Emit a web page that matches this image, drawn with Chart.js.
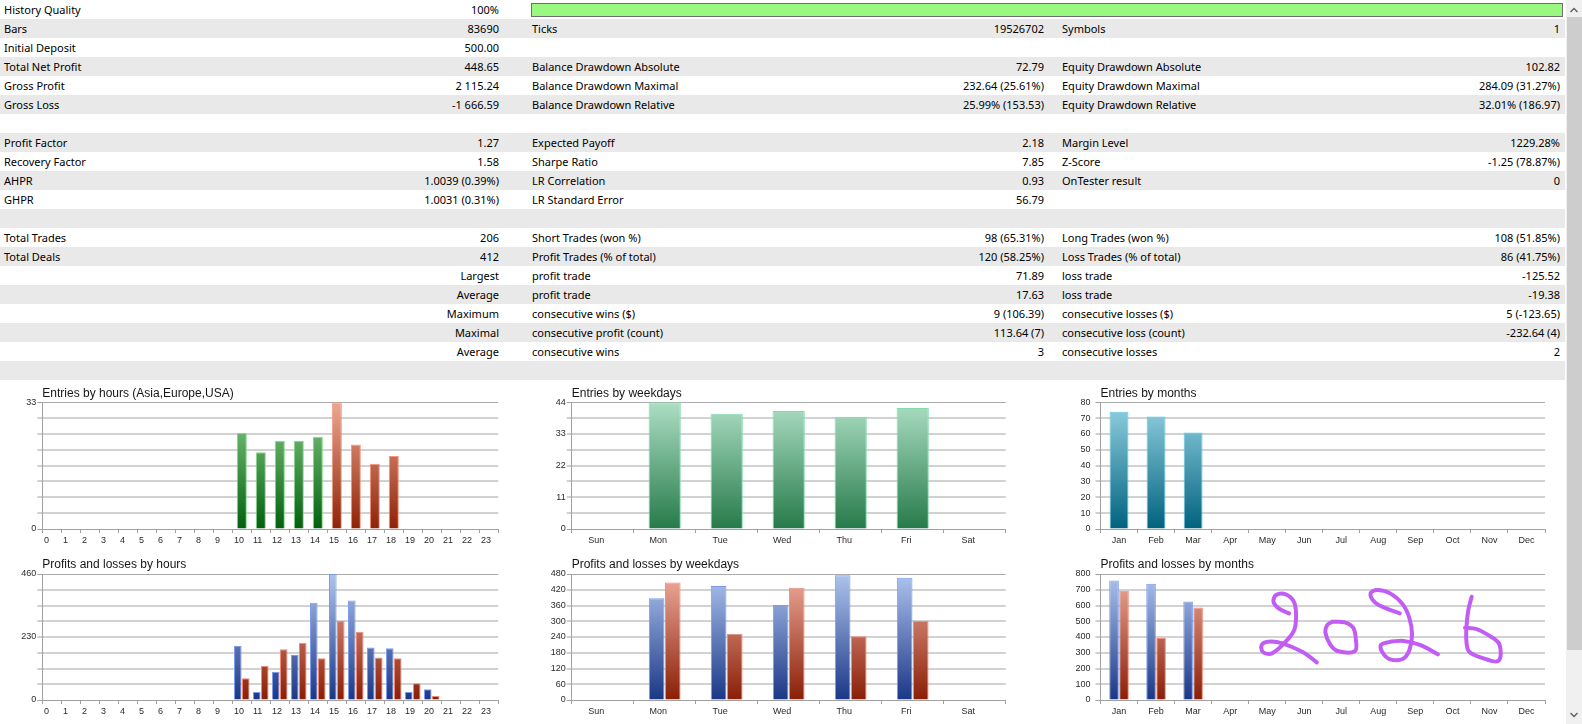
<!DOCTYPE html>
<html>
<head>
<meta charset="utf-8">
<title>Tester report</title>
<script src="https://cdn.jsdelivr.net/npm/chart.js@4.4.1/dist/chart.umd.min.js"></script>
<style>
  html, body { margin: 0; padding: 0; background: #fff; }
  body { position: relative; width: 1582px; height: 724px; overflow: hidden;
         font-family: "Noto Sans", "Open Sans", sans-serif; font-size: 11px; color: #000; }
  .row { position: absolute; left: 0; width: 1565px; height: 19px; line-height: 19px; }
  .row.odd { background: #e9e9e9; }
  .cell { position: absolute; top: 0; white-space: nowrap; }
  .num { text-align: right; }
  .quality { position: absolute; left: 531px; top: 3px; width: 1030px; height: 12px;
             background: #98f880; border: 1px solid #6e6e6e; }
  canvas { position: absolute; }
  #scroll { position: absolute; left: 1566px; top: 0; width: 16px; height: 724px; background: #f0f0f0; }
  #thumb { position: absolute; left: 1567px; top: 17px; width: 15px; height: 633px; background: #cdcdcd; }
  svg.arrow { position: absolute; left: 1566px; width: 16px; height: 16px; }
</style>
</head>
<body>
<div id="table"></div>
<div id="scroll"></div>
<div id="thumb"></div>
<svg class="arrow" style="top:2px"><polyline points="4.5,10 8,6.5 11.5,10" fill="none" stroke="#606060" stroke-width="1.4"/></svg>
<svg class="arrow" style="top:707px"><polyline points="4.5,6 8,9.5 11.5,6" fill="none" stroke="#606060" stroke-width="1.4"/></svg>

<canvas id="hoursEntries" width="520" height="170" style="left:0;top:380px"></canvas>
<canvas id="weekdaysEntries" width="520" height="170" style="left:520px;top:380px"></canvas>
<canvas id="monthsEntries" width="526" height="170" style="left:1040px;top:380px"></canvas>
<canvas id="hoursPL" width="520" height="174" style="left:0;top:550px"></canvas>
<canvas id="weekdaysPL" width="520" height="174" style="left:520px;top:550px"></canvas>
<canvas id="monthsPL" width="526" height="174" style="left:1040px;top:550px"></canvas>
<canvas id="monthsScribble" width="526" height="174" style="left:1040px;top:550px;pointer-events:none"></canvas>

<script>
//************************************************************************************************* */
//************************************   GLOBALS    ****************************************** */
//************************************************************************************************* */
// report table: label, value, label, value, label, value
const tableRows = [
  ['History Quality', '100%', '', '', '', ''],
  ['Bars', '83690', 'Ticks', '19526702', 'Symbols', '1'],
  ['Initial Deposit', '500.00', '', '', '', ''],
  ['Total Net Profit', '448.65', 'Balance Drawdown Absolute', '72.79', 'Equity Drawdown Absolute', '102.82'],
  ['Gross Profit', '2 115.24', 'Balance Drawdown Maximal', '232.64 (25.61%)', 'Equity Drawdown Maximal', '284.09 (31.27%)'],
  ['Gross Loss', '-1 666.59', 'Balance Drawdown Relative', '25.99% (153.53)', 'Equity Drawdown Relative', '32.01% (186.97)'],
  ['', '', '', '', '', ''],
  ['Profit Factor', '1.27', 'Expected Payoff', '2.18', 'Margin Level', '1229.28%'],
  ['Recovery Factor', '1.58', 'Sharpe Ratio', '7.85', 'Z-Score', '-1.25 (78.87%)'],
  ['AHPR', '1.0039 (0.39%)', 'LR Correlation', '0.93', 'OnTester result', '0'],
  ['GHPR', '1.0031 (0.31%)', 'LR Standard Error', '56.79', '', ''],
  ['', '', '', '', '', ''],
  ['Total Trades', '206', 'Short Trades (won %)', '98 (65.31%)', 'Long Trades (won %)', '108 (51.85%)'],
  ['Total Deals', '412', 'Profit Trades (% of total)', '120 (58.25%)', 'Loss Trades (% of total)', '86 (41.75%)'],
  ['', 'Largest', 'profit trade', '71.89', 'loss trade', '-125.52'],
  ['', 'Average', 'profit trade', '17.63', 'loss trade', '-19.38'],
  ['', 'Maximum', 'consecutive wins ($)', '9 (106.39)', 'consecutive losses ($)', '5 (-123.65)'],
  ['', 'Maximal', 'consecutive profit (count)', '113.64 (7)', 'consecutive loss (count)', '-232.64 (4)'],
  ['', 'Average', 'consecutive wins', '3', 'consecutive losses', '2'],
  ['', '', '', '', '', '']
];

const hourLabels = ['0','1','2','3','4','5','6','7','8','9','10','11','12','13','14','15','16','17','18','19','20','21','22','23'];
const weekdayLabels = ['Sun', 'Mon', 'Tue', 'Wed', 'Thu', 'Fri', 'Sat'];
const monthLabels = ['Jan', 'Feb', 'Mar', 'Apr', 'May', 'Jun', 'Jul', 'Aug', 'Sep', 'Oct', 'Nov', 'Dec'];

const hourEntries = [0,0,0,0,0,0,0,0,0,0,25,20,23,23,24,33,22,17,19,0,0,0,0,0];
const hourProfits = [0,0,0,0,0,0,0,0,0,0,197,29,103,164,355,460,363,192,189,29,39,0,0,0];
const hourLosses  = [0,0,0,0,0,0,0,0,0,0,79,124,185,209,152,288,249,155,152,61,15,0,0,0];

const weekdayEntries = [0, 44, 40, 41, 39, 42, 0];
const weekdayProfits = [0, 388, 434, 362, 475, 466, 0];
const weekdayLosses  = [0, 448, 252, 428, 243, 301, 0];

const monthEntries = [74, 71, 61, 0, 0, 0, 0, 0, 0, 0, 0, 0];
const monthProfits = [758, 738, 626, 0, 0, 0, 0, 0, 0, 0, 0, 0];
const monthLosses  = [693, 393, 588, 0, 0, 0, 0, 0, 0, 0, 0, 0];

// y tick labels that are written (the grid always has 8 steps up to the last one)
const hourEntriesTicks = [0, 33];
const hourPLTicks = [0, 230, 460];
const weekdayEntriesTicks = [0, 11, 22, 33, 44];
const weekdayPLTicks = [0, 60, 120, 180, 240, 300, 360, 420, 480];
const monthEntriesTicks = [0, 10, 20, 30, 40, 50, 60, 70, 80];
const monthPLTicks = [0, 100, 200, 300, 400, 500, 600, 700, 800];

// hand-drawn "2026" over the months chart, [month index, value]
const scribbleTwo = [[4.59,550],[4.31,582],[4.17,624],[4.24,667],[4.50,671],[4.72,624],[4.78,540],[4.73,444],
  [4.50,370],[4.13,296],[3.89,303],[3.85,349],[4.03,370],[4.41,360],[4.97,303],[5.34,239]];
const scribbleZero = [[5.76,497],[6.09,493],[6.32,459],[6.39,392],[6.37,311],[5.90,311],[5.70,353],
  [5.57,430],[5.62,476],[5.76,497]];
const scribbleTwoAgain = [[7.58,550],[7.21,582],[6.91,620],[6.79,677],[6.97,698],[7.32,677],[7.66,607],
  [7.84,519],[7.91,417],[7.84,317],[7.66,260],[7.30,260],[7.11,303],[7.07,349],[7.25,366],[7.68,375],
  [8.14,349],[8.61,290]];
const scribbleSix = [[9.52,656],[9.43,571],[9.38,466],[9.38,370],[9.45,307],[9.78,269],[10.24,248],
  [10.27,353],[9.96,413],[9.64,451],[9.34,459]];

const AXIS = '#a0a0a0';
const TEXT = '#2a2a2a';
const palette = {
  europe:  {top: '#86cc86', bottom: '#02600f', border: '#88d888'},
  usa:     {top: '#eea890', bottom: '#8e2206', border: '#f2957e'},
  weekday: {top: '#acdec4', bottom: '#267a4a', border: '#84dcac'},
  month:   {top: '#94d2e2', bottom: '#00627e', border: '#5cc4e0'},
  profit:  {top: '#aec4ee', bottom: '#1a3786', border: '#7a9aea'},
  loss:    {top: '#eeac9c', bottom: '#8a1e06', border: '#f28a78'}
};

//************************************************************************************************* */
//************************************   TABLE    ****************************************** */
//************************************************************************************************* */
const cellPos = [
  {left: 4}, {left: 0, width: 499, num: true},
  {left: 532}, {left: 532, width: 512, num: true},
  {left: 1062}, {left: 1062, width: 498, num: true}
];
const tableEl = document.getElementById('table');
tableRows.forEach((cells, r) => {
  const row = document.createElement('div');
  row.className = 'row' + (r % 2 ? ' odd' : '');
  row.style.top = (r * 19) + 'px';
  cells.forEach((text, c) => {
    if (!text) return;
    const cell = document.createElement('div');
    const p = cellPos[c];
    cell.className = 'cell' + (p.num ? ' num' : '');
    cell.style.left = p.left + 'px';
    if (p.width) cell.style.width = p.width + 'px';
    cell.textContent = text;
    row.appendChild(cell);
  });
  tableEl.appendChild(row);
});
const bar = document.createElement('div');
bar.className = 'quality';
tableEl.appendChild(bar);

//************************************************************************************************* */
//************************************   CHARTS    ****************************************** */
//************************************************************************************************* */
Chart.defaults.font.family = '"Liberation Sans", Arial, sans-serif';
Chart.defaults.animation = false;

function gradient(chart, c) {
  const area = chart.chartArea;
  if (!area) return c.top;
  const g = chart.ctx.createLinearGradient(0, area.bottom, 0, area.top);
  g.addColorStop(0, c.bottom);
  g.addColorStop(1, c.top);
  return g;
}

function barSet(data, colorFor, pct) {
  return {
    data: data,
    backgroundColor: ctx => gradient(ctx.chart, colorFor(ctx.dataIndex)),
    borderColor: ctx => colorFor(ctx.dataIndex).border,
    borderWidth: 1,
    barPercentage: pct.bar,
    categoryPercentage: pct.cat
  };
}

function scribbleSet(points) {
  return {
    data: points.map(p => ({x: p[0], y: p[1]})),
    borderColor: '#c15cf4',
    borderWidth: 4,
    borderCapStyle: 'round',
    borderJoinStyle: 'round',
    pointRadius: 0,
    tension: 0.35,
    fill: false
  };
}

// Creates one report chart in the canvas with the given layout numbers
function createChart(stat) {
  const yMax = stat.yTicks[stat.yTicks.length - 1];
  const gridValues = [];
  for (let i = 0; i <= 8; i++) gridValues.push(yMax * i / 8);
  const edge = c => c.tick && (c.tick.value === yMax || c.tick.value === 0);
  return new Chart(document.getElementById(stat.canvasId), {
    type: 'bar',
    data: {labels: stat.labels, datasets: stat.datasets},
    options: {
      responsive: false,
      layout: {padding: {left: 0, right: stat.padRight, top: 0, bottom: 0}},
      plugins: {
        legend: {display: false},
        tooltip: {enabled: false},
        title: {
          display: true, text: stat.title, align: 'start', fullSize: false,
          color: '#161616', font: {size: 12, weight: 'normal', lineHeight: 1.2},
          padding: stat.titlePad
        }
      },
      scales: {
        x: {
          offset: true,
          grid: {drawOnChartArea: false, drawTicks: true, tickLength: 4, color: AXIS, offset: true},
          border: {display: true, color: AXIS, width: 1},
          ticks: {autoSkip: false, maxRotation: 0, padding: 2.5, color: TEXT, font: {size: 9},
                  align: stat.xAlign || 'center', labelOffset: stat.xOffset || 0},
          afterFit: s => { s.height = stat.xHeight; }
        },
        y: {
          min: 0,
          max: yMax,
          afterBuildTicks: s => { s.ticks = gridValues.map(v => ({value: v})); },
          grid: {
            color: c => edge(c) ? '#aaaaaa' : '#d2d2d2',
            lineWidth: c => edge(c) ? 1 : 2,
            drawTicks: true, tickLength: 5, tickColor: AXIS, tickWidth: 1
          },
          border: {display: true, color: AXIS, width: 1},
          ticks: {
            padding: stat.yPad, color: TEXT, font: {size: 9},
            callback: v => stat.yTicks.some(t => Math.abs(t - v) < 1e-6) ? String(v) : ''
          },
          afterFit: s => { s.width = stat.yWidth; }
        }
      }
    }
  });
}

// Overlay chart for the handwriting, sharing the plot area of the chart below it
function createScribble(stat, canvasId, strokes) {
  const top = stat.titlePad.top + stat.titlePad.bottom + 12 * 1.2;
  return new Chart(document.getElementById(canvasId), {
    type: 'line',
    data: {datasets: strokes.map(scribbleSet)},
    options: {
      responsive: false,
      layout: {padding: {left: stat.yWidth, right: stat.padRight, top: top, bottom: stat.xHeight}},
      plugins: {legend: {display: false}, tooltip: {enabled: false}},
      scales: {
        x: {type: 'linear', display: false, min: -0.5, max: stat.labels.length - 0.5},
        y: {display: false, min: 0, max: stat.yTicks[stat.yTicks.length - 1]}
      }
    }
  });
}

const topRow = {xHeight: 21, titlePad: {top: 6, bottom: 1.9}};
const bottomRow = {xHeight: 24, titlePad: {top: 7, bottom: 2.6}};
const hourCol = {yWidth: 42.3, padRight: 21.7, yPad: 1, xAlign: 'start', xOffset: -7.8};
const weekdayCol = {yWidth: 51.7, padRight: 34.3, yPad: 1, xOffset: -6.5};
const monthCol = {yWidth: 60.5, padRight: 21, yPad: 5};

const stats = [
  Object.assign({canvasId: 'hoursEntries', title: 'Entries by hours (Asia,Europe,USA)', labels: hourLabels,
    yTicks: hourEntriesTicks,
    datasets: [barSet(hourEntries, i => i < 15 ? palette.europe : palette.usa, {bar: 1, cat: 0.53})]
  }, topRow, hourCol),
  Object.assign({canvasId: 'weekdaysEntries', title: 'Entries by weekdays', labels: weekdayLabels,
    yTicks: weekdayEntriesTicks,
    datasets: [barSet(weekdayEntries, () => palette.weekday, {bar: 1, cat: 0.52})]
  }, topRow, weekdayCol),
  Object.assign({canvasId: 'monthsEntries', title: 'Entries by months', labels: monthLabels,
    yTicks: monthEntriesTicks,
    datasets: [barSet(monthEntries, () => palette.month, {bar: 1, cat: 0.51})]
  }, topRow, monthCol),
  Object.assign({canvasId: 'hoursPL', title: 'Profits and losses by hours', labels: hourLabels,
    yTicks: hourPLTicks,
    datasets: [barSet(hourProfits, () => palette.profit, {bar: 0.95, cat: 0.84}),
               barSet(hourLosses, () => palette.loss, {bar: 0.95, cat: 0.84})]
  }, bottomRow, hourCol),
  Object.assign({canvasId: 'weekdaysPL', title: 'Profits and losses by weekdays', labels: weekdayLabels,
    yTicks: weekdayPLTicks,
    datasets: [barSet(weekdayProfits, () => palette.profit, {bar: 0.97, cat: 0.52}),
               barSet(weekdayLosses, () => palette.loss, {bar: 0.97, cat: 0.52})]
  }, bottomRow, weekdayCol),
  Object.assign({canvasId: 'monthsPL', title: 'Profits and losses by months', labels: monthLabels,
    yTicks: monthPLTicks,
    datasets: [barSet(monthProfits, () => palette.profit, {bar: 0.96, cat: 0.54}),
               barSet(monthLosses, () => palette.loss, {bar: 0.96, cat: 0.54})]
  }, bottomRow, monthCol)
];

stats.forEach(stat => { stat.chart = createChart(stat); });
createScribble(stats[5], 'monthsScribble', [scribbleTwo, scribbleZero, scribbleTwoAgain, scribbleSix]);
</script>
</body>
</html>
